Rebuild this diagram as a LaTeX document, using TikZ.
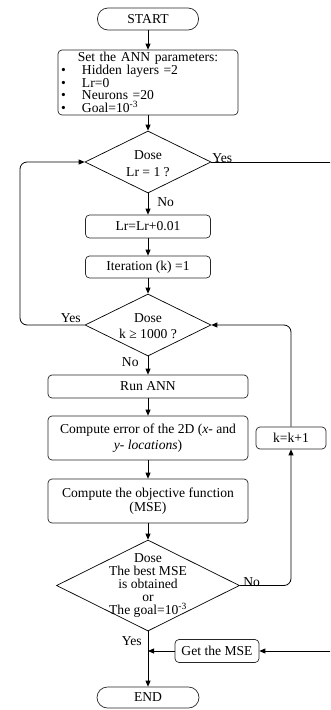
\documentclass[tikz,border=0pt]{standalone}
\usepackage{fontspec}
\setmainfont{Liberation Serif}
\usetikzlibrary{shapes.geometric,arrows.meta}
\begin{document}
\begin{tikzpicture}[x=1pt,y=-1pt,
  font=\fontsize{13.6}{14}\selectfont,
  line width=0.8pt,
  box/.style={draw=black!85, line width=0.7pt, rounded corners=4pt, inner sep=0pt, align=center},
  term/.style={draw=black!85, line width=0.7pt, rounded corners=10.5pt, inner sep=0pt, align=center},
  dec/.style={draw, diamond, inner sep=0pt, line width=0.7pt},
  dtext/.style={inner sep=0pt, align=center},
  lbl/.style={inner sep=0pt},
  arr/.style={-{Triangle[length=6pt,width=5pt]}}]
\useasboundingbox (0,0) rectangle (330,710);
\clip (0,0) rectangle (330,710);

% terminals and boxes
\node[term, minimum width=101, minimum height=22] (start) at (148,19) {START};
\node[box, minimum width=180, minimum height=65, text width=176,
      font=\fontsize{13.6}{12.8}\selectfont] (par) at (148,82.5)
  {Set the ANN parameters:\\
   \makebox[176pt][l]{\makebox[22pt][l]{\hspace{1pt}\textbullet}Hidden layers =2}\\
   \makebox[176pt][l]{\makebox[22pt][l]{\hspace{1pt}\textbullet}Lr=0}\\
   \makebox[176pt][l]{\makebox[22pt][l]{\hspace{1pt}\textbullet}Neurons =20}\\
   \makebox[176pt][l]{\makebox[22pt][l]{\hspace{1pt}\textbullet}Goal=10\textsuperscript{-3}}};

\node[dec, minimum width=126, minimum height=62] (d1) at (148,162) {};
\node[dtext, font=\fontsize{13.6}{17}\selectfont] (d1t) at (148,164) {Dose\\Lr = 1 ?};

\node[box, minimum width=125, minimum height=23] (lr) at (148,226.5) {Lr=Lr+0.01};
\node[box, minimum width=125, minimum height=22] (it) at (148,267) {Iteration (k) =1};

\node[dec, minimum width=126, minimum height=62] (d2) at (148,325) {};
\node[dtext, font=\fontsize{13.6}{16}\selectfont] (d2t) at (148,326) {Dose\\k ≥ 1000 ?};

\node[box, minimum width=200, minimum height=23] (run) at (148,386.5) {Run ANN};
\node[box, minimum width=200, minimum height=44, font=\fontsize{13.6}{16}\selectfont] (err) at (148,438)
  {Compute error of the 2D (\textit{x}- and\\ \textit{y- locations})};
\node[box, minimum width=200, minimum height=44, font=\fontsize{13.6}{13.5}\selectfont] (obj) at (148,501)
  {Compute the objective function\\(MSE)};

\node[dec, minimum width=183, minimum height=91] (d3) at (148,585.5) {};
\node[dtext, font=\fontsize{13.6}{13}\selectfont] (d3t) at (148,586)
  {Dose\\The best MSE\\is obtained\\or\\The goal=10\textsuperscript{-3}};

\node[box, minimum width=70, minimum height=22] (kk) at (291,438) {k=k+1};
\node[box, minimum width=84, minimum height=23] (gm) at (217,651) {Get the MSE};
\node[term, minimum width=102, minimum height=21] (end) at (148,697.5) {END};

% helper coordinates
\coordinate (r1) at (334,162);
\coordinate (r2) at (334,651);
\coordinate (l1) at (20,325);
\coordinate (l2) at (20,162);
\coordinate (join) at (148,651);

% connectors
\draw[arr] (start.south) -- (par.north);
\draw[arr] (par.south) -- (d1.north);
\draw[arr] (d1.south) -- (lr.north);
\draw[arr] (lr.south) -- (it.north);
\draw[arr] (it.south) -- (d2.north);
\draw[arr] (d2.south) -- (run.north);
\draw[arr] (run.south) -- (err.north);
\draw[arr] (err.south) -- (obj.north);
\draw[arr] (obj.south) -- (d3.north);
\draw[arr] (d3.south) -- (end.north);
\draw[arr] (gm.west) -- (join);
\draw[arr] (d1.east) -- (r1) -- (r2) -- (gm.east);
\draw[arr, rounded corners=7pt] (d2.west) -- (l1) -- (l2) -- (d1.west);
\draw[arr, rounded corners=7pt] (d3.east) -| (kk.south);
\draw[arr, rounded corners=7pt] (kk.north) |- (d2.east);

% labels
\node[lbl, anchor=base west] (y1) at (212,162) {Yes};
\node[lbl, anchor=west] (n1) at (157,202) {No};
\node[lbl, anchor=base east] (y2) at (81,322) {Yes};
\node[lbl, anchor=east] (n2) at (139,362) {No};
\node[lbl, anchor=base west] (n3) at (243,586) {No};
\node[lbl, anchor=east] (y3) at (142,641) {Yes};
\end{tikzpicture}
\end{document}
